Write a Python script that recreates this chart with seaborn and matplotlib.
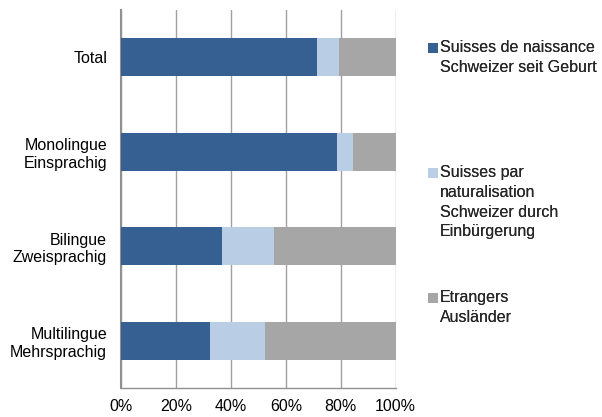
import matplotlib
matplotlib.use("Agg")
import matplotlib.pyplot as plt
import seaborn as sns
import pandas as pd
import numpy as np
from matplotlib.patches import Patch, Rectangle
from matplotlib.legend_handler import HandlerBase

categories = ["Total", "Monolingue\nEinsprachig", "Bilingue\nZweisprachig", "Multilingue\nMehrsprachig"]
naissance = [71.4, 78.7, 36.8, 32.5]
naturalisation = [8.1, 5.9, 19.0, 19.9]
etrangers = [20.5, 15.4, 44.2, 47.6]
series_labels = ["Suisses de naissance\nSchweizer seit Geburt",
                 "Suisses par\nnaturalisation\nSchweizer durch\nEinbürgerung",
                 "Etrangers\nAusländer"]
colors = ["#376092", "#B9CDE5", "#A6A6A6"]
xticks = [0, 20, 40, 60, 80, 100]
xticklabels = ["0%", "20%", "40%", "60%", "80%", "100%"]

FS = 11.5
LS = 1.4

sns.set_theme(style="white")
plt.rcParams["font.family"] = ["Liberation Sans", "DejaVu Sans"]

df = pd.DataFrame({"cat": categories, "a": naissance, "b": naturalisation, "c": etrangers})
df["ab"] = df["a"] + df["b"]
df["abc"] = df["ab"] + df["c"]

fig = plt.figure(figsize=(6.02, 4.17), dpi=100)
ax = fig.add_axes([121 / 602, 1 - 388 / 417, (395.7 - 121) / 602, (388 - 10) / 417])

for col, color in zip(["abc", "ab", "a"], [colors[2], colors[1], colors[0]]):
    sns.barplot(data=df, y="cat", x=col, color=color, width=0.4, ax=ax,
                orient="h", saturation=1, edgecolor="none", linewidth=0, zorder=3)

ax.set_xlim(0, 100)
ax.set_ylim(3.5, -0.5)
ax.set_xticks(xticks)
ax.set_xticklabels(xticklabels, fontsize=FS, color="#000000")
ax.tick_params(axis="y", labelsize=FS, length=0, pad=10, colors="#000000")
ax.tick_params(axis="x", length=0, pad=8)
for t in ax.get_yticklabels():
    t.set_linespacing(1.2)
ax.set_xlabel("")
ax.set_ylabel("")
ax.grid(axis="x", color="#A0A0A0", linewidth=1.0, zorder=0)
ax.set_axisbelow(True)
for s in ["top", "right"]:
    ax.spines[s].set_visible(False)
ax.spines["left"].set_color("#909090")
ax.spines["left"].set_linewidth(1.5)
ax.spines["bottom"].set_color("#909090")
ax.spines["bottom"].set_linewidth(1.0)


class TopSquareHandler(HandlerBase):
    def __init__(self, nlines, **kw):
        super().__init__(**kw)
        self.nlines = nlines

    def create_artists(self, legend, orig_handle, xdescent, ydescent, width, height, fontsize, trans):
        shift = (self.nlines - 1) / 2 * 0.887 * fontsize * LS
        r = Rectangle((-xdescent, -ydescent + shift), width, height,
                      facecolor=orig_handle.get_facecolor(), edgecolor="none", transform=trans)
        return [r]


legend_tops = [40, 165, 290]
for lab, color, top in zip(series_labels, colors, legend_tops):
    h = Patch(facecolor=color, edgecolor="none")
    leg = fig.legend(handles=[h], labels=[lab],
                     loc="upper left", bbox_to_anchor=(428 / 602, 1 - top / 417),
                     frameon=False, fontsize=FS, handlelength=0.6, handleheight=0.6,
                     handletextpad=0.15, borderpad=0, borderaxespad=0, labelspacing=0,
                     handler_map={h: TopSquareHandler(lab.count("\n") + 1)})
    for t in leg.get_texts():
        t.set_linespacing(LS)
    fig.add_artist(leg)

fig.savefig("out.png", dpi=100)
